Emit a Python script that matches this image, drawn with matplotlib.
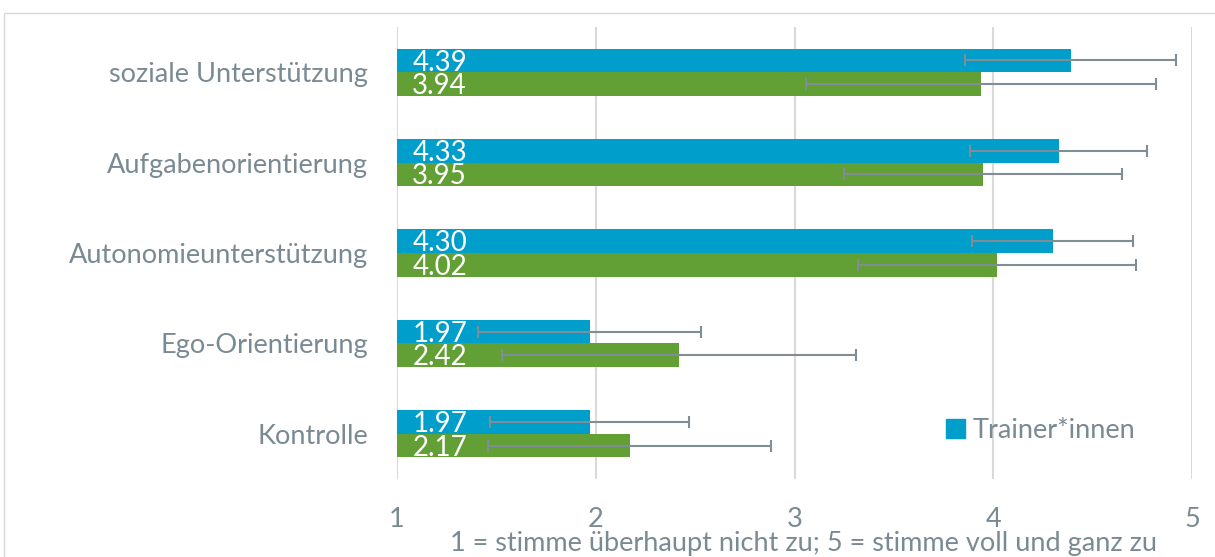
import numpy as np
import matplotlib.pyplot as plt
from matplotlib.patches import Rectangle, Patch

plt.rcParams['font.family'] = ['Lato', 'DejaVu Sans']

# data (top to bottom as shown)
categories = ['soziale Unterstützung', 'Aufgabenorientierung', 'Autonomieunterstützung',
              'Ego-Orientierung', 'Kontrolle']
trainer = [4.39, 4.33, 4.30, 1.97, 1.97]
trainer_sd = [0.53, 0.445, 0.405, 0.56, 0.50]
athleten = [3.94, 3.95, 4.02, 2.42, 2.17]
athleten_sd = [0.88, 0.70, 0.70, 0.89, 0.71]

blue = '#009ECB'
green = '#629F34'
grey_txt = '#7A8A93'
err_col = '#7F8D96'

fig = plt.figure(figsize=(12.15, 5.57), dpi=100)
ax = fig.add_axes([397 / 1215, 1 - 479 / 557, 795 / 1215, 452 / 557])

# outer chart frame
fig.patches.append(Rectangle((4 / 1215, -0.2), 1.2, 1.2 - 13 / 557,
                             transform=fig.transFigure, fill=False,
                             edgecolor='#D9D9D9', lw=1.0))

y = np.arange(len(categories))
h = 0.26
err_kw = dict(ecolor=err_col, elinewidth=1.5, capsize=4, capthick=1.5)

ax.barh(y - h / 2, np.array(trainer) - 1, left=1, height=h, color=blue,
        xerr=trainer_sd, error_kw=err_kw, label='Trainer*innen', zorder=3)
ax.barh(y + h / 2, np.array(athleten) - 1, left=1, height=h, color=green,
        xerr=athleten_sd, error_kw=err_kw, label='Athlet*innen', zorder=3)

for i in range(len(categories)):
    ax.annotate(f'{trainer[i]:.2f}', (1, y[i] - h / 2), xytext=(11, -1.5),
                textcoords='offset points', va='center', ha='left',
                color='white', fontsize=20, zorder=5)
    ax.annotate(f'{athleten[i]:.2f}', (1, y[i] + h / 2), xytext=(11, -1.5),
                textcoords='offset points', va='center', ha='left',
                color='white', fontsize=20, zorder=5)

ax.set_xlim(1, 5)
ax.set_ylim(len(categories) - 0.5, -0.5)
ax.set_xticks([1, 2, 3, 4, 5])
ax.set_yticks(y)
ax.set_yticklabels(categories)
ax.tick_params(axis='both', length=0, labelsize=19.5, colors=grey_txt)
ax.tick_params(axis='y', pad=21)
ax.tick_params(axis='x', pad=20)
ax.xaxis.grid(True, color='#D9D9D9', lw=1.5, zorder=0)
for s in ax.spines.values():
    s.set_visible(False)

ax.set_xlabel('1 = stimme überhaupt nicht zu; 5 = stimme voll und ganz zu',
              fontsize=19.5, color=grey_txt, va='center')
ax.xaxis.set_label_coords(0.511, -0.143)

ax.legend(handles=[Patch(color=blue, label='Trainer*innen')], loc='center',
          bbox_to_anchor=(0.81, 0.108), frameon=False, fontsize=19.5,
          labelcolor=grey_txt, handlelength=0.7, handleheight=0.7,
          handletextpad=0.3)

fig.savefig('out.png', dpi=100)
